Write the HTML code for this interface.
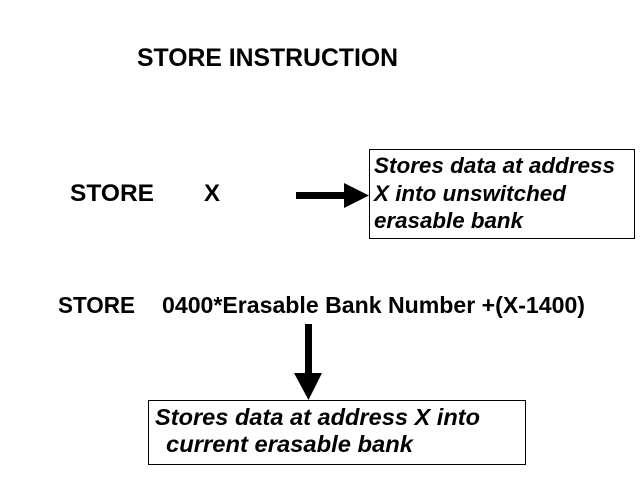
<!DOCTYPE html>
<html>
<head>
<meta charset="utf-8">
<style>
  html, body { margin: 0; padding: 0; background: #fff; }
  body { width: 640px; height: 480px; overflow: hidden; }
  svg { display: block; }
  text { font-family: "Liberation Sans", Arial, sans-serif; font-weight: bold; fill: #000; }
  .it { font-style: italic; }
</style>
</head>
<body>
<svg width="640" height="480" viewBox="0 0 640 480" xmlns="http://www.w3.org/2000/svg">
  <rect x="0" y="0" width="640" height="480" fill="#fff"/>

  <!-- Title -->
  <text x="137" y="66" font-size="24.7" textLength="261" lengthAdjust="spacingAndGlyphs">STORE INSTRUCTION</text>

  <!-- STORE X -->
  <text x="70" y="201" font-size="24" textLength="84" lengthAdjust="spacingAndGlyphs">STORE</text>
  <text x="204" y="201" font-size="24" textLength="16" lengthAdjust="spacingAndGlyphs">X</text>

  <!-- Right arrow -->
  <rect x="296" y="192" width="52" height="7" fill="#000"/>
  <polygon points="344,183 369,195.5 344,208" fill="#000"/>

  <!-- Box 1 -->
  <rect x="369.5" y="149.5" width="265" height="89" fill="none" stroke="#000" stroke-width="1"/>
  <text class="it" x="374" y="173" font-size="22.5" textLength="241" lengthAdjust="spacingAndGlyphs">Stores data at address</text>
  <text class="it" x="374" y="201" font-size="22.5" textLength="192" lengthAdjust="spacingAndGlyphs">X into unswitched</text>
  <text class="it" x="374" y="228" font-size="22.5" textLength="149" lengthAdjust="spacingAndGlyphs">erasable bank</text>

  <!-- Second line -->
  <text x="58" y="313" font-size="23" textLength="77" lengthAdjust="spacingAndGlyphs">STORE</text>
  <text x="162" y="313" font-size="23" textLength="423" lengthAdjust="spacingAndGlyphs">0400*Erasable Bank Number +(X-1400)</text>

  <!-- Down arrow -->
  <rect x="305" y="324" width="7" height="52" fill="#000"/>
  <polygon points="294,373 322,373 308.5,400" fill="#000"/>

  <!-- Box 2 -->
  <rect x="148.5" y="400.5" width="377" height="64" fill="none" stroke="#000" stroke-width="1"/>
  <text class="it" x="155" y="425" font-size="23.5" textLength="325" lengthAdjust="spacingAndGlyphs">Stores data at address X into</text>
  <text class="it" x="166" y="452" font-size="23.5" textLength="247" lengthAdjust="spacingAndGlyphs">current erasable bank</text>
</svg>
</body>
</html>
